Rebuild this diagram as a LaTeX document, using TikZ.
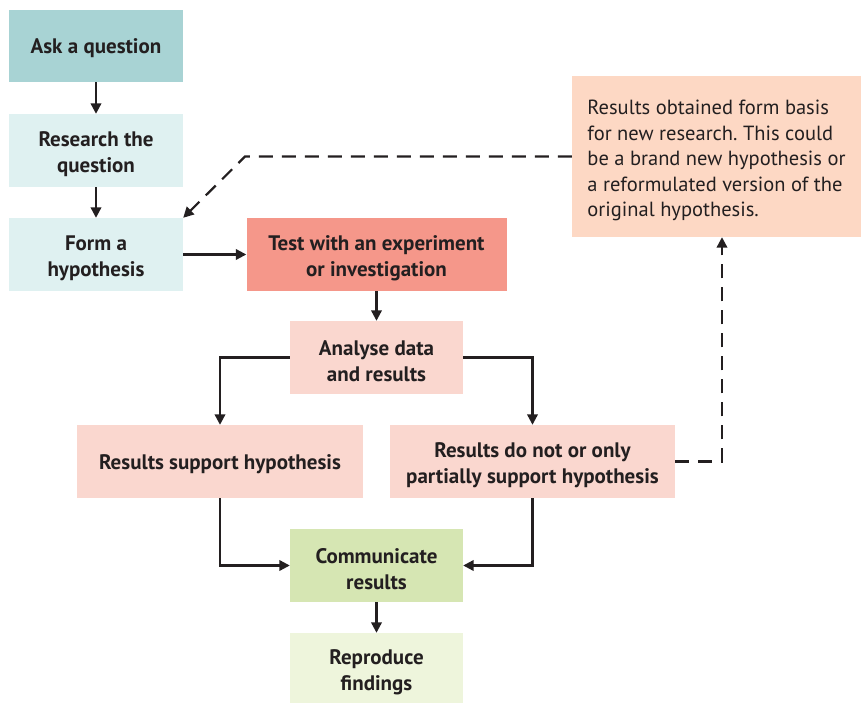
\documentclass[tikz,border=0pt]{standalone}
\usepackage{fontspec}
\setmainfont{PT Sans}
\usetikzlibrary{arrows.meta}
\definecolor{askc}{HTML}{A8D3D4}
\definecolor{tealc}{HTML}{DFF1F1}
\definecolor{testc}{HTML}{F5978A}
\definecolor{salc}{HTML}{FAD7CF}
\definecolor{peachc}{HTML}{FDD8C4}
\definecolor{greenc}{HTML}{D6E6B3}
\definecolor{lgreenc}{HTML}{EEF5DC}
\definecolor{inkc}{HTML}{231F20}
\newcommand{\onel}{\rule{0pt}{19.5pt}}
\newcommand{\twol}{\rule{0pt}{23pt}}
\tikzset{
  box/.style={rectangle, inner sep=0pt, align=center, text=inkc,
    font=\bfseries\fontsize{21}{26}\selectfont},
  arr/.style={draw=inkc, line width=2.2pt, -{Triangle[length=10.5pt,width=10.5pt]}},
  dasharr/.style={arr, dash pattern=on 14pt off 9pt},
}
\begin{document}
\frenchspacing
\begin{tikzpicture}[x=1pt,y=-1pt]
\useasboundingbox (0,0) rectangle (862,703);
\node[box, fill=askc, minimum width=174pt, minimum height=72pt] (ask) at (96,46) {\onel Ask a question};
\node[box, fill=tealc, minimum width=174pt, minimum height=73pt] (research) at (96,150.5) {\twol Research the\\question};
\node[box, fill=tealc, minimum width=174pt, minimum height=73pt] (form) at (96,254.5) {\twol Form a\\hypothesis};
\node[box, fill=testc, minimum width=260pt, minimum height=73pt] (test) at (376.5,254.5) {\twol Test with an experiment\\or investigation};
\node[box, fill=salc, minimum width=173pt, minimum height=73pt] (analyse) at (376.5,357.5) {\twol Analyse data\\and results};
\node[box, fill=salc, minimum width=286pt, minimum height=73pt] (support) at (220,461.5) {\onel Results support hypothesis};
\node[box, fill=salc, minimum width=285pt, minimum height=73pt] (notsup) at (532.5,461.5) {\twol Results do not or only\\partially support hypothesis};
\node[box, fill=greenc, minimum width=173pt, minimum height=73pt] (comm) at (376.5,565.5) {\twol Communicate\\results};
\node[box, fill=lgreenc, minimum width=173pt, minimum height=70pt] (repro) at (376.5,668) {\twol Reproduce\\findings};
\node[box, fill=peachc, minimum width=289pt, minimum height=161pt, align=left,
  font=\fontsize{20.5}{25.5}\selectfont] (results) at (716.5,156.5)
  {\twol Results obtained form basis\\for new research. This could\\be a brand new hypothesis or\\a reformulated version of the\\original hypothesis.};
\coordinate (turn1) at (722,461.5);
\coordinate (turn2) at (245,156.5);
\draw[arr] (ask) -- (research);
\draw[arr] (research) -- (form);
\draw[arr] (form) -- (test);
\draw[arr] (test) -- (analyse);
\draw[arr] (analyse.west) -| (support.north);
\draw[arr] (analyse.east) -| (notsup.north);
\draw[arr] (support.south) |- (comm.west);
\draw[arr] (notsup.south) |- (comm.east);
\draw[arr] (comm) -- (repro);
\draw[dasharr] (notsup.east) -- (turn1) -- (turn1 |- results.south);
\draw[dasharr] (results.west) -- (turn2) -- (form.north east);
\end{tikzpicture}
\end{document}
